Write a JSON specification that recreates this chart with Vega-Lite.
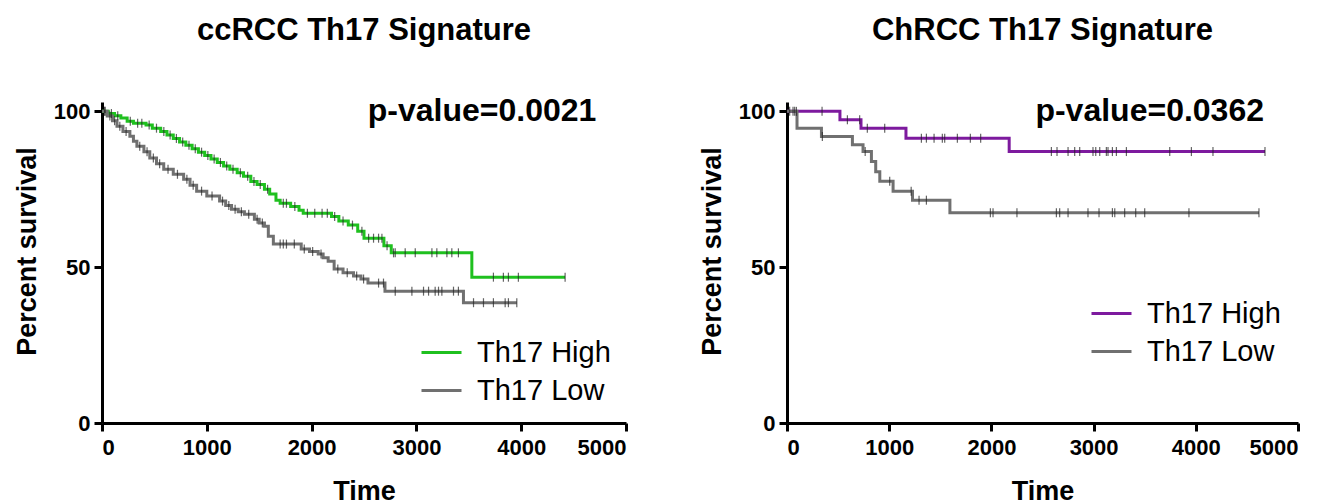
{
  "$schema": "https://vega.github.io/schema/vega-lite/v6.json",
  "background": "white",
  "padding": {"left": 13, "top": 15, "right": 5, "bottom": 0},
  "config": {
    "font": "Liberation Sans",
    "view": {"stroke": null},
    "axis": {
      "grid": false,
      "domainColor": "black",
      "domainWidth": 3,
      "tickColor": "black",
      "tickWidth": 3,
      "tickSize": 8,
      "labelFont": "Liberation Sans",
      "labelFontSize": 22,
      "labelFontWeight": "bold",
      "labelColor": "black",
      "labelPadding": 4,
      "titleFont": "Liberation Sans",
      "titleFontSize": 27,
      "titleFontWeight": "bold",
      "titleColor": "black",
      "format": "d"
    },
    "axisY": {"titlePadding": 12, "titleY": 149},
    "axisX": {"titlePadding": 20, "labelPadding": 6},
    "title": {"font": "Liberation Sans", "fontSize": 31, "fontWeight": "bold", "color": "black", "anchor": "middle", "offset": 48},
    "legend": {
      "orient": "none",
      "title": null,
      "padding": 0,
      "symbolType": "stroke",
      "symbolSize": 1600,
      "symbolStrokeWidth": 3,
      "labelFont": "Liberation Sans",
      "labelFontSize": 29,
      "labelColor": "black",
      "labelOffset": 14,
      "rowPadding": 1,
      "direction": "vertical"
    }
  },
  "datasets": {
    "pv": [
      {"p": "cc", "t": 3627, "s": 100, "label": "p-value=0.0021"},
      {"p": "ch", "t": 3549, "s": 100, "label": "p-value=0.0362"}
    ],
    "km": [
      {"p":"cc","g":"Th17 High","t":0,"s":100,"c":0},
      {"p":"cc","g":"Th17 High","t":30,"s":100,"c":1},
      {"p":"cc","g":"Th17 High","t":60,"s":99.3,"c":0},
      {"p":"cc","g":"Th17 High","t":90,"s":99.3,"c":1},
      {"p":"cc","g":"Th17 High","t":120,"s":98.6,"c":0},
      {"p":"cc","g":"Th17 High","t":150,"s":98.6,"c":1},
      {"p":"cc","g":"Th17 High","t":180,"s":97.9,"c":0},
      {"p":"cc","g":"Th17 High","t":240,"s":96.8,"c":0},
      {"p":"cc","g":"Th17 High","t":270,"s":96.8,"c":1},
      {"p":"cc","g":"Th17 High","t":300,"s":96.2,"c":0},
      {"p":"cc","g":"Th17 High","t":340,"s":96.2,"c":1},
      {"p":"cc","g":"Th17 High","t":380,"s":96.2,"c":1},
      {"p":"cc","g":"Th17 High","t":420,"s":95.6,"c":0},
      {"p":"cc","g":"Th17 High","t":450,"s":95.6,"c":1},
      {"p":"cc","g":"Th17 High","t":480,"s":94.6,"c":0},
      {"p":"cc","g":"Th17 High","t":520,"s":94.6,"c":1},
      {"p":"cc","g":"Th17 High","t":560,"s":93.5,"c":0},
      {"p":"cc","g":"Th17 High","t":590,"s":93.5,"c":1},
      {"p":"cc","g":"Th17 High","t":620,"s":92.4,"c":0},
      {"p":"cc","g":"Th17 High","t":650,"s":92.4,"c":1},
      {"p":"cc","g":"Th17 High","t":680,"s":91.3,"c":0},
      {"p":"cc","g":"Th17 High","t":710,"s":91.3,"c":1},
      {"p":"cc","g":"Th17 High","t":740,"s":90.2,"c":0},
      {"p":"cc","g":"Th17 High","t":770,"s":90.2,"c":1},
      {"p":"cc","g":"Th17 High","t":800,"s":89.1,"c":0},
      {"p":"cc","g":"Th17 High","t":830,"s":89.1,"c":1},
      {"p":"cc","g":"Th17 High","t":860,"s":88.0,"c":0},
      {"p":"cc","g":"Th17 High","t":890,"s":88.0,"c":1},
      {"p":"cc","g":"Th17 High","t":920,"s":86.9,"c":0},
      {"p":"cc","g":"Th17 High","t":950,"s":86.9,"c":1},
      {"p":"cc","g":"Th17 High","t":980,"s":85.8,"c":0},
      {"p":"cc","g":"Th17 High","t":1010,"s":85.8,"c":1},
      {"p":"cc","g":"Th17 High","t":1040,"s":84.7,"c":0},
      {"p":"cc","g":"Th17 High","t":1070,"s":84.7,"c":1},
      {"p":"cc","g":"Th17 High","t":1100,"s":83.6,"c":0},
      {"p":"cc","g":"Th17 High","t":1130,"s":83.6,"c":1},
      {"p":"cc","g":"Th17 High","t":1160,"s":82.5,"c":0},
      {"p":"cc","g":"Th17 High","t":1190,"s":82.5,"c":1},
      {"p":"cc","g":"Th17 High","t":1220,"s":81.4,"c":0},
      {"p":"cc","g":"Th17 High","t":1250,"s":81.4,"c":1},
      {"p":"cc","g":"Th17 High","t":1290,"s":80.3,"c":0},
      {"p":"cc","g":"Th17 High","t":1320,"s":80.3,"c":1},
      {"p":"cc","g":"Th17 High","t":1350,"s":79.2,"c":0},
      {"p":"cc","g":"Th17 High","t":1390,"s":79.2,"c":1},
      {"p":"cc","g":"Th17 High","t":1420,"s":77.5,"c":0},
      {"p":"cc","g":"Th17 High","t":1450,"s":77.5,"c":1},
      {"p":"cc","g":"Th17 High","t":1480,"s":76.5,"c":0},
      {"p":"cc","g":"Th17 High","t":1510,"s":76.5,"c":1},
      {"p":"cc","g":"Th17 High","t":1550,"s":75.0,"c":0},
      {"p":"cc","g":"Th17 High","t":1580,"s":75.0,"c":1},
      {"p":"cc","g":"Th17 High","t":1600,"s":73.5,"c":0},
      {"p":"cc","g":"Th17 High","t":1660,"s":71.5,"c":0},
      {"p":"cc","g":"Th17 High","t":1700,"s":70.5,"c":0},
      {"p":"cc","g":"Th17 High","t":1730,"s":70.5,"c":1},
      {"p":"cc","g":"Th17 High","t":1760,"s":70.5,"c":1},
      {"p":"cc","g":"Th17 High","t":1800,"s":69.5,"c":0},
      {"p":"cc","g":"Th17 High","t":1840,"s":69.5,"c":1},
      {"p":"cc","g":"Th17 High","t":1880,"s":68.3,"c":0},
      {"p":"cc","g":"Th17 High","t":1920,"s":67.3,"c":0},
      {"p":"cc","g":"Th17 High","t":1960,"s":67.3,"c":1},
      {"p":"cc","g":"Th17 High","t":2030,"s":67.3,"c":1},
      {"p":"cc","g":"Th17 High","t":2100,"s":67.3,"c":1},
      {"p":"cc","g":"Th17 High","t":2150,"s":67.3,"c":1},
      {"p":"cc","g":"Th17 High","t":2190,"s":66.3,"c":0},
      {"p":"cc","g":"Th17 High","t":2220,"s":66.3,"c":1},
      {"p":"cc","g":"Th17 High","t":2260,"s":64.8,"c":0},
      {"p":"cc","g":"Th17 High","t":2300,"s":64.8,"c":1},
      {"p":"cc","g":"Th17 High","t":2350,"s":63.5,"c":0},
      {"p":"cc","g":"Th17 High","t":2390,"s":63.5,"c":1},
      {"p":"cc","g":"Th17 High","t":2440,"s":61.5,"c":0},
      {"p":"cc","g":"Th17 High","t":2480,"s":61.5,"c":1},
      {"p":"cc","g":"Th17 High","t":2500,"s":59.3,"c":0},
      {"p":"cc","g":"Th17 High","t":2544,"s":59.3,"c":1},
      {"p":"cc","g":"Th17 High","t":2591,"s":59.3,"c":1},
      {"p":"cc","g":"Th17 High","t":2639,"s":59.3,"c":1},
      {"p":"cc","g":"Th17 High","t":2671,"s":59.3,"c":1},
      {"p":"cc","g":"Th17 High","t":2690,"s":56.9,"c":0},
      {"p":"cc","g":"Th17 High","t":2720,"s":56.9,"c":1},
      {"p":"cc","g":"Th17 High","t":2760,"s":54.6,"c":0},
      {"p":"cc","g":"Th17 High","t":2782,"s":54.6,"c":1},
      {"p":"cc","g":"Th17 High","t":2798,"s":54.6,"c":1},
      {"p":"cc","g":"Th17 High","t":2893,"s":54.6,"c":1},
      {"p":"cc","g":"Th17 High","t":2989,"s":54.6,"c":1},
      {"p":"cc","g":"Th17 High","t":3148,"s":54.6,"c":1},
      {"p":"cc","g":"Th17 High","t":3195,"s":54.6,"c":1},
      {"p":"cc","g":"Th17 High","t":3291,"s":54.6,"c":1},
      {"p":"cc","g":"Th17 High","t":3338,"s":54.6,"c":1},
      {"p":"cc","g":"Th17 High","t":3401,"s":54.6,"c":1},
      {"p":"cc","g":"Th17 High","t":3529,"s":46.8,"c":0},
      {"p":"cc","g":"Th17 High","t":3735,"s":46.8,"c":1},
      {"p":"cc","g":"Th17 High","t":3830,"s":46.8,"c":1},
      {"p":"cc","g":"Th17 High","t":3878,"s":46.8,"c":1},
      {"p":"cc","g":"Th17 High","t":3973,"s":46.8,"c":1},
      {"p":"cc","g":"Th17 High","t":4419,"s":46.8,"c":1},

      {"p":"cc","g":"Th17 Low","t":0,"s":100,"c":0},
      {"p":"cc","g":"Th17 Low","t":25,"s":100,"c":1},
      {"p":"cc","g":"Th17 Low","t":50,"s":98.5,"c":0},
      {"p":"cc","g":"Th17 Low","t":75,"s":98.5,"c":1},
      {"p":"cc","g":"Th17 Low","t":100,"s":97,"c":0},
      {"p":"cc","g":"Th17 Low","t":120,"s":97,"c":1},
      {"p":"cc","g":"Th17 Low","t":143,"s":95.2,"c":0},
      {"p":"cc","g":"Th17 Low","t":170,"s":95.2,"c":1},
      {"p":"cc","g":"Th17 Low","t":200,"s":93.5,"c":0},
      {"p":"cc","g":"Th17 Low","t":230,"s":93.5,"c":1},
      {"p":"cc","g":"Th17 Low","t":266,"s":92,"c":0},
      {"p":"cc","g":"Th17 Low","t":300,"s":90.4,"c":0},
      {"p":"cc","g":"Th17 Low","t":333,"s":88.8,"c":0},
      {"p":"cc","g":"Th17 Low","t":360,"s":88.8,"c":1},
      {"p":"cc","g":"Th17 Low","t":400,"s":87,"c":0},
      {"p":"cc","g":"Th17 Low","t":430,"s":87,"c":1},
      {"p":"cc","g":"Th17 Low","t":456,"s":85,"c":0},
      {"p":"cc","g":"Th17 Low","t":490,"s":85,"c":1},
      {"p":"cc","g":"Th17 Low","t":520,"s":83.2,"c":0},
      {"p":"cc","g":"Th17 Low","t":550,"s":83.2,"c":1},
      {"p":"cc","g":"Th17 Low","t":589,"s":81.4,"c":0},
      {"p":"cc","g":"Th17 Low","t":630,"s":81.4,"c":1},
      {"p":"cc","g":"Th17 Low","t":680,"s":79.8,"c":0},
      {"p":"cc","g":"Th17 Low","t":720,"s":79.8,"c":1},
      {"p":"cc","g":"Th17 Low","t":779,"s":78.2,"c":0},
      {"p":"cc","g":"Th17 Low","t":810,"s":78.2,"c":1},
      {"p":"cc","g":"Th17 Low","t":840,"s":76.3,"c":0},
      {"p":"cc","g":"Th17 Low","t":870,"s":76.3,"c":1},
      {"p":"cc","g":"Th17 Low","t":903,"s":74.4,"c":0},
      {"p":"cc","g":"Th17 Low","t":950,"s":74.4,"c":1},
      {"p":"cc","g":"Th17 Low","t":1000,"s":72.8,"c":0},
      {"p":"cc","g":"Th17 Low","t":1050,"s":72.8,"c":1},
      {"p":"cc","g":"Th17 Low","t":1122,"s":71.2,"c":0},
      {"p":"cc","g":"Th17 Low","t":1150,"s":71.2,"c":1},
      {"p":"cc","g":"Th17 Low","t":1180,"s":69.8,"c":0},
      {"p":"cc","g":"Th17 Low","t":1210,"s":69.8,"c":1},
      {"p":"cc","g":"Th17 Low","t":1236,"s":68.6,"c":0},
      {"p":"cc","g":"Th17 Low","t":1270,"s":68.6,"c":1},
      {"p":"cc","g":"Th17 Low","t":1300,"s":67.8,"c":0},
      {"p":"cc","g":"Th17 Low","t":1330,"s":67.8,"c":1},
      {"p":"cc","g":"Th17 Low","t":1359,"s":67.0,"c":0},
      {"p":"cc","g":"Th17 Low","t":1400,"s":67.0,"c":1},
      {"p":"cc","g":"Th17 Low","t":1454,"s":65.4,"c":0},
      {"p":"cc","g":"Th17 Low","t":1480,"s":65.4,"c":1},
      {"p":"cc","g":"Th17 Low","t":1500,"s":64.2,"c":0},
      {"p":"cc","g":"Th17 Low","t":1530,"s":64.2,"c":1},
      {"p":"cc","g":"Th17 Low","t":1550,"s":63.1,"c":0},
      {"p":"cc","g":"Th17 Low","t":1587,"s":59.9,"c":0},
      {"p":"cc","g":"Th17 Low","t":1635,"s":57.4,"c":0},
      {"p":"cc","g":"Th17 Low","t":1700,"s":57.4,"c":1},
      {"p":"cc","g":"Th17 Low","t":1730,"s":57.4,"c":1},
      {"p":"cc","g":"Th17 Low","t":1760,"s":57.4,"c":1},
      {"p":"cc","g":"Th17 Low","t":1835,"s":57.4,"c":1},
      {"p":"cc","g":"Th17 Low","t":1901,"s":55.8,"c":0},
      {"p":"cc","g":"Th17 Low","t":1930,"s":55.8,"c":1},
      {"p":"cc","g":"Th17 Low","t":1980,"s":55.0,"c":0},
      {"p":"cc","g":"Th17 Low","t":2010,"s":55.0,"c":1},
      {"p":"cc","g":"Th17 Low","t":2063,"s":54.2,"c":0},
      {"p":"cc","g":"Th17 Low","t":2090,"s":54.2,"c":1},
      {"p":"cc","g":"Th17 Low","t":2110,"s":53.0,"c":0},
      {"p":"cc","g":"Th17 Low","t":2158,"s":51.9,"c":0},
      {"p":"cc","g":"Th17 Low","t":2215,"s":49.4,"c":0},
      {"p":"cc","g":"Th17 Low","t":2250,"s":49.4,"c":1},
      {"p":"cc","g":"Th17 Low","t":2300,"s":48.2,"c":0},
      {"p":"cc","g":"Th17 Low","t":2340,"s":48.2,"c":1},
      {"p":"cc","g":"Th17 Low","t":2400,"s":47.2,"c":0},
      {"p":"cc","g":"Th17 Low","t":2430,"s":47.2,"c":1},
      {"p":"cc","g":"Th17 Low","t":2471,"s":46.2,"c":0},
      {"p":"cc","g":"Th17 Low","t":2496,"s":46.2,"c":1},
      {"p":"cc","g":"Th17 Low","t":2538,"s":44.9,"c":0},
      {"p":"cc","g":"Th17 Low","t":2639,"s":44.9,"c":1},
      {"p":"cc","g":"Th17 Low","t":2686,"s":44.9,"c":1},
      {"p":"cc","g":"Th17 Low","t":2700,"s":42.3,"c":0},
      {"p":"cc","g":"Th17 Low","t":2798,"s":42.3,"c":1},
      {"p":"cc","g":"Th17 Low","t":2957,"s":42.3,"c":1},
      {"p":"cc","g":"Th17 Low","t":3068,"s":42.3,"c":1},
      {"p":"cc","g":"Th17 Low","t":3116,"s":42.3,"c":1},
      {"p":"cc","g":"Th17 Low","t":3179,"s":42.3,"c":1},
      {"p":"cc","g":"Th17 Low","t":3211,"s":42.3,"c":1},
      {"p":"cc","g":"Th17 Low","t":3243,"s":42.3,"c":1},
      {"p":"cc","g":"Th17 Low","t":3354,"s":42.3,"c":1},
      {"p":"cc","g":"Th17 Low","t":3401,"s":42.3,"c":1},
      {"p":"cc","g":"Th17 Low","t":3449,"s":38.6,"c":0},
      {"p":"cc","g":"Th17 Low","t":3545,"s":38.6,"c":1},
      {"p":"cc","g":"Th17 Low","t":3640,"s":38.6,"c":1},
      {"p":"cc","g":"Th17 Low","t":3735,"s":38.6,"c":1},
      {"p":"cc","g":"Th17 Low","t":3847,"s":38.6,"c":1},
      {"p":"cc","g":"Th17 Low","t":3878,"s":38.6,"c":1},
      {"p":"cc","g":"Th17 Low","t":3958,"s":38.6,"c":1},

      {"p":"ch","g":"Th17 High","t":0,"s":100,"c":0},
      {"p":"ch","g":"Th17 High","t":59,"s":100,"c":1},
      {"p":"ch","g":"Th17 High","t":92,"s":100,"c":1},
      {"p":"ch","g":"Th17 High","t":343,"s":100,"c":1},
      {"p":"ch","g":"Th17 High","t":518,"s":97.3,"c":0},
      {"p":"ch","g":"Th17 High","t":591,"s":97.3,"c":1},
      {"p":"ch","g":"Th17 High","t":711,"s":97.3,"c":1},
      {"p":"ch","g":"Th17 High","t":724,"s":94.6,"c":0},
      {"p":"ch","g":"Th17 High","t":786,"s":94.6,"c":1},
      {"p":"ch","g":"Th17 High","t":956,"s":94.6,"c":1},
      {"p":"ch","g":"Th17 High","t":1164,"s":91.4,"c":0},
      {"p":"ch","g":"Th17 High","t":1315,"s":91.4,"c":1},
      {"p":"ch","g":"Th17 High","t":1364,"s":91.4,"c":1},
      {"p":"ch","g":"Th17 High","t":1439,"s":91.4,"c":1},
      {"p":"ch","g":"Th17 High","t":1520,"s":91.4,"c":1},
      {"p":"ch","g":"Th17 High","t":1543,"s":91.4,"c":1},
      {"p":"ch","g":"Th17 High","t":1667,"s":91.4,"c":1},
      {"p":"ch","g":"Th17 High","t":1794,"s":91.4,"c":1},
      {"p":"ch","g":"Th17 High","t":1895,"s":91.4,"c":1},
      {"p":"ch","g":"Th17 High","t":2174,"s":87.1,"c":0},
      {"p":"ch","g":"Th17 High","t":2587,"s":87.1,"c":1},
      {"p":"ch","g":"Th17 High","t":2642,"s":87.1,"c":1},
      {"p":"ch","g":"Th17 High","t":2750,"s":87.1,"c":1},
      {"p":"ch","g":"Th17 High","t":2815,"s":87.1,"c":1},
      {"p":"ch","g":"Th17 High","t":2864,"s":87.1,"c":1},
      {"p":"ch","g":"Th17 High","t":2994,"s":87.1,"c":1},
      {"p":"ch","g":"Th17 High","t":3021,"s":87.1,"c":1},
      {"p":"ch","g":"Th17 High","t":3060,"s":87.1,"c":1},
      {"p":"ch","g":"Th17 High","t":3125,"s":87.1,"c":1},
      {"p":"ch","g":"Th17 High","t":3141,"s":87.1,"c":1},
      {"p":"ch","g":"Th17 High","t":3184,"s":87.1,"c":1},
      {"p":"ch","g":"Th17 High","t":3223,"s":87.1,"c":1},
      {"p":"ch","g":"Th17 High","t":3321,"s":87.1,"c":1},
      {"p":"ch","g":"Th17 High","t":3745,"s":87.1,"c":1},
      {"p":"ch","g":"Th17 High","t":3957,"s":87.1,"c":1},
      {"p":"ch","g":"Th17 High","t":4168,"s":87.1,"c":1},
      {"p":"ch","g":"Th17 High","t":4677,"s":87.1,"c":1},

      {"p":"ch","g":"Th17 Low","t":0,"s":100,"c":0},
      {"p":"ch","g":"Th17 Low","t":26,"s":100,"c":1},
      {"p":"ch","g":"Th17 Low","t":75,"s":100,"c":1},
      {"p":"ch","g":"Th17 Low","t":98,"s":94.6,"c":0},
      {"p":"ch","g":"Th17 Low","t":337,"s":91.9,"c":0},
      {"p":"ch","g":"Th17 Low","t":346,"s":91.9,"c":1},
      {"p":"ch","g":"Th17 Low","t":640,"s":89.3,"c":0},
      {"p":"ch","g":"Th17 Low","t":744,"s":87.1,"c":0},
      {"p":"ch","g":"Th17 Low","t":765,"s":87.1,"c":1},
      {"p":"ch","g":"Th17 Low","t":826,"s":83.9,"c":0},
      {"p":"ch","g":"Th17 Low","t":868,"s":80.6,"c":0},
      {"p":"ch","g":"Th17 Low","t":908,"s":77.6,"c":0},
      {"p":"ch","g":"Th17 Low","t":1005,"s":77.6,"c":1},
      {"p":"ch","g":"Th17 Low","t":1038,"s":74.4,"c":0},
      {"p":"ch","g":"Th17 Low","t":1215,"s":74.4,"c":1},
      {"p":"ch","g":"Th17 Low","t":1228,"s":71.5,"c":0},
      {"p":"ch","g":"Th17 Low","t":1292,"s":71.5,"c":1},
      {"p":"ch","g":"Th17 Low","t":1364,"s":71.5,"c":1},
      {"p":"ch","g":"Th17 Low","t":1594,"s":67.5,"c":0},
      {"p":"ch","g":"Th17 Low","t":1990,"s":67.5,"c":1},
      {"p":"ch","g":"Th17 Low","t":2016,"s":67.5,"c":1},
      {"p":"ch","g":"Th17 Low","t":2250,"s":67.5,"c":1},
      {"p":"ch","g":"Th17 Low","t":2636,"s":67.5,"c":1},
      {"p":"ch","g":"Th17 Low","t":2668,"s":67.5,"c":1},
      {"p":"ch","g":"Th17 Low","t":2750,"s":67.5,"c":1},
      {"p":"ch","g":"Th17 Low","t":2945,"s":67.5,"c":1},
      {"p":"ch","g":"Th17 Low","t":3053,"s":67.5,"c":1},
      {"p":"ch","g":"Th17 Low","t":3184,"s":67.5,"c":1},
      {"p":"ch","g":"Th17 Low","t":3207,"s":67.5,"c":1},
      {"p":"ch","g":"Th17 Low","t":3304,"s":67.5,"c":1},
      {"p":"ch","g":"Th17 Low","t":3412,"s":67.5,"c":1},
      {"p":"ch","g":"Th17 Low","t":3500,"s":67.5,"c":1},
      {"p":"ch","g":"Th17 Low","t":3933,"s":67.5,"c":1},
      {"p":"ch","g":"Th17 Low","t":4618,"s":67.5,"c":1}
    ]
  },
  "hconcat": [
    {
      "width": 524,
      "height": 321,
      "title": {"text": "ccRCC Th17 Signature"},
      "layer": [
        {
          "data": {"name": "km"},
          "transform": [{"filter": "datum.p === 'cc'"}],
          "mark": {"type": "line", "interpolate": "step-after", "strokeWidth": 3},
          "encoding": {
            "x": {"field": "t", "type": "quantitative", "scale": {"domain": [0, 5000], "nice": false}, "axis": {"title": "Time", "values": [0, 1000, 2000, 3000, 4000, 5000]}},
            "y": {"field": "s", "type": "quantitative", "scale": {"domain": [0, 103], "nice": false}, "axis": {"title": "Percent survival", "values": [0, 50, 100]}},
            "color": {"field": "g", "type": "nominal", "scale": {"domain": ["Th17 High", "Th17 Low"], "range": ["#1fc01f", "#707070"]}, "legend": {"legendX": 318, "legendY": 229}}
          }
        },
        {
          "data": {"name": "km"},
          "transform": [{"filter": "datum.p === 'cc' && datum.c === 1"}],
          "mark": {"type": "tick", "orient": "vertical", "size": 9, "thickness": 1.2, "color": "#222"},
          "encoding": {
            "x": {"field": "t", "type": "quantitative"},
            "y": {"field": "s", "type": "quantitative"}
          }
        },
        {
          "data": {"name": "pv"},
          "transform": [{"filter": "datum.p === 'cc'"}],
          "mark": {"type": "text", "font": "Liberation Sans", "fontSize": 32, "fontWeight": "bold", "color": "black", "align": "center", "baseline": "middle"},
          "encoding": {
            "x": {"field": "t", "type": "quantitative"},
            "y": {"field": "s", "type": "quantitative"},
            "text": {"field": "label"}
          }
        }
      ]
    },
    {
      "width": 511,
      "height": 321,
      "title": {"text": "ChRCC Th17 Signature"},
      "layer": [
        {
          "data": {"name": "km"},
          "transform": [{"filter": "datum.p === 'ch'"}],
          "mark": {"type": "line", "interpolate": "step-after", "strokeWidth": 3},
          "encoding": {
            "x": {"field": "t", "type": "quantitative", "scale": {"domain": [0, 5000], "nice": false}, "axis": {"title": "Time", "values": [0, 1000, 2000, 3000, 4000, 5000]}},
            "y": {"field": "s", "type": "quantitative", "scale": {"domain": [0, 103], "nice": false}, "axis": {"title": "Percent survival", "values": [0, 50, 100]}},
            "color": {"field": "g", "type": "nominal", "scale": {"domain": ["Th17 High", "Th17 Low"], "range": ["#7d1a9e", "#707070"]}, "legend": {"legendX": 303, "legendY": 190}}
          }
        },
        {
          "data": {"name": "km"},
          "transform": [{"filter": "datum.p === 'ch' && datum.c === 1"}],
          "mark": {"type": "tick", "orient": "vertical", "size": 9, "thickness": 1.2, "color": "#222"},
          "encoding": {
            "x": {"field": "t", "type": "quantitative"},
            "y": {"field": "s", "type": "quantitative"}
          }
        },
        {
          "data": {"name": "pv"},
          "transform": [{"filter": "datum.p === 'ch'"}],
          "mark": {"type": "text", "font": "Liberation Sans", "fontSize": 32, "fontWeight": "bold", "color": "black", "align": "center", "baseline": "middle"},
          "encoding": {
            "x": {"field": "t", "type": "quantitative"},
            "y": {"field": "s", "type": "quantitative"},
            "text": {"field": "label"}
          }
        }
      ]
    }
  ],
  "bounds": "flush",
  "spacing": 161,
  "resolve": {"scale": {"color": "independent"}, "legend": {"color": "independent"}}
}
